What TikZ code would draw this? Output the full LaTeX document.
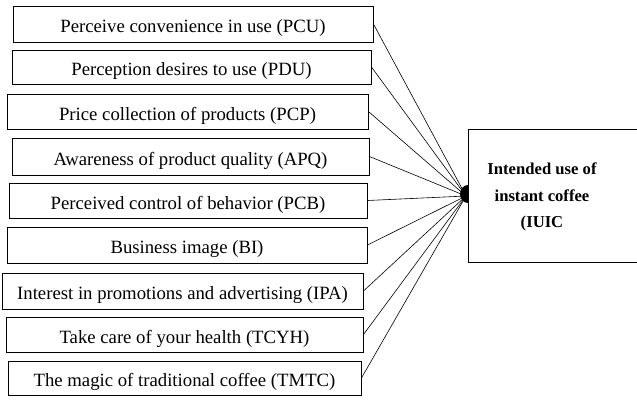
\documentclass[tikz,border=0pt]{standalone}
\usepackage{fontspec}
\setmainfont{Liberation Serif}
\usetikzlibrary{calc}

\tikzset{
  factor/.style={draw,line width=0.9pt,inner sep=0pt,text height=17bp,text depth=0pt,font=\fontsize{18.8}{22}\selectfont},
  link/.style={line width=0.6pt}
}

\begin{document}
\begin{tikzpicture}[x=1bp,y=-1bp]
  \useasboundingbox (0,0) rectangle (637,399);
  % factor boxes
  \node[factor,minimum width=360bp,minimum height=36bp] (PCU) at (193,24) {Perceive convenience in use (PCU)};
  \node[factor,minimum width=359bp,minimum height=34bp] (PDU) at (191.5,67) {Perception desires to use (PDU)};
  \node[factor,minimum width=361bp,minimum height=35bp] (PCP) at (187.5,111.5) {Price collection of products (PCP)};
  \node[factor,minimum width=357bp,minimum height=37bp] (APQ) at (190.5,156.5) {Awareness of product quality (APQ)};
  \node[factor,minimum width=358bp,minimum height=35bp] (PCB) at (188,200.5) {Perceived control of behavior (PCB)};
  \node[factor,minimum width=360bp,minimum height=36bp] (BI) at (187,245) {Business image (BI)};
  \node[factor,minimum width=361bp,minimum height=36bp] (IPA) at (182.5,291) {Interest in promotions and advertising (IPA)};
  \node[factor,minimum width=357bp,minimum height=35bp] (TCYH) at (184.5,334.5) {Take care of your health (TCYH)};
  \node[factor,minimum width=353bp,minimum height=34bp] (TMTC) at (184.5,378) {The magic of traditional coffee (TMTC)};
  % outcome box, right side runs off the page
  \coordinate (IUICnw) at (468,129);
  \coordinate (IUICse) at (645,262);
  \draw[line width=0.9pt] (IUICnw) rectangle (IUICse);
  \node[font=\fontsize{16.7}{27}\selectfont\bfseries,align=center] (IUIC) at (542,197) {Intended use of\\instant coffee\\(IUIC};
  % junction
  \coordinate (hub) at (466,196);
  \fill (468,185) arc[start angle=90,end angle=270,x radius=8,y radius=-9] -- cycle;
  \foreach \f in {PCU,PDU,PCP,APQ,PCB,BI,IPA,TCYH,TMTC}
    \draw[link] (\f.east) -- (hub);
\end{tikzpicture}
\end{document}
